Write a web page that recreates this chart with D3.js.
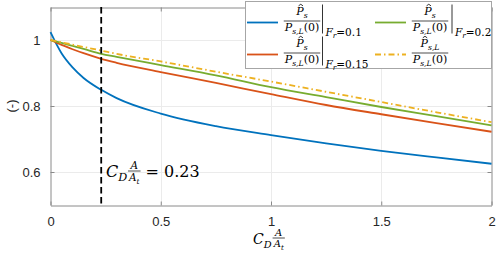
<!DOCTYPE html>
<html>
<head>
<meta charset="utf-8">
<script src="https://cdn.jsdelivr.net/npm/d3@7"></script>
<style>
  body { margin: 0; background: #fff; }
  svg { display: block; }
  .math { font-family: "DejaVu Serif", "Liberation Serif", serif; }
</style>
</head>
<body>
<div id="chart"></div>
<script>
// data
const cda = [0, 0.05, 0.1, 0.15, 0.23, 0.3, 0.5, 0.75, 1, 1.25, 1.5, 1.75, 2];
const fr010 = [1.024, 0.960, 0.917, 0.885, 0.849, 0.824, 0.777, 0.739, 0.712, 0.687, 0.664, 0.644, 0.625];
const fr015 = [1, 0.985, 0.972, 0.960, 0.943, 0.931, 0.903, 0.870, 0.836, 0.803, 0.775, 0.748, 0.722];
const fr020 = [1, 0.991, 0.982, 0.973, 0.958, 0.949, 0.924, 0.893, 0.857, 0.827, 0.797, 0.769, 0.741];
const limit = [1, 0.993, 0.986, 0.979, 0.968, 0.958, 0.935, 0.904, 0.874, 0.843, 0.812, 0.781, 0.751];
const xTicks = [0, 0.5, 1, 1.5, 2];
const yTicks = [0.6, 0.8, 1];
const marker = 0.23;

const W = 500, H = 256;
const config = { left: 50.5, right: 491.5, top: 7, bottom: 205 };

const svg = d3.select("#chart").append("svg")
    .attr("width", W).attr("height", H);

const xScale = d3.scaleLinear().domain([0, 2]).range([config.left, config.right]);
const yScale = d3.scaleLinear().domain([0.5, 1.1]).range([config.bottom, config.top]);

const sansFont = "'Liberation Sans', Arial, sans-serif";

// grid
svg.append("g").selectAll("line").data(xTicks.slice(1, -1)).enter().append("line")
    .attr("x1", d => Math.round(xScale(d)) + 0.5).attr("x2", d => Math.round(xScale(d)) + 0.5)
    .attr("y1", config.top).attr("y2", config.bottom)
    .style("stroke", "#ebebeb").style("stroke-width", 1);
svg.append("g").selectAll("line").data(yTicks).enter().append("line")
    .attr("x1", config.left).attr("x2", config.right)
    .attr("y1", d => Math.round(yScale(d)) + 0.5).attr("y2", d => Math.round(yScale(d)) + 0.5)
    .style("stroke", "#ebebeb").style("stroke-width", 1);

// axes
const axColor = "#8a8a8a";
svg.append("g")
    .attr("transform", "translate(0," + (config.bottom + 0.5) + ")")
    .call(d3.axisBottom(xScale).tickValues(xTicks).tickSizeInner(-4).tickSizeOuter(0).tickPadding(11).tickFormat(d3.format("")));
svg.append("g")
    .attr("transform", "translate(" + config.left + ",0)")
    .call(d3.axisLeft(yScale).tickValues(yTicks).tickSizeInner(-4).tickSizeOuter(0).tickPadding(10).tickFormat(d3.format("")));
svg.append("g")
    .attr("transform", "translate(0," + (config.top + 0.5) + ")")
    .call(d3.axisTop(xScale).tickValues(xTicks).tickSizeInner(-4).tickSizeOuter(0).tickFormat(""));
svg.append("g")
    .attr("transform", "translate(" + config.right + ",0)")
    .call(d3.axisRight(yScale).tickValues(yTicks).tickSizeInner(-4).tickSizeOuter(0).tickFormat(""));
svg.selectAll(".domain, .tick line").style("stroke", axColor);
svg.selectAll(".tick text")
    .style("font-family", sansFont).style("font-size", "13px").style("fill", "#262626");

// curves
const line = d3.line().x((d, i) => xScale(cda[i])).y(d => yScale(d)).curve(d3.curveMonotoneX);
const series = [
    { values: fr010, color: "#0072BD", dash: null },
    { values: fr015, color: "#D95319", dash: null },
    { values: fr020, color: "#77AC30", dash: null },
    { values: limit, color: "#EDB120", dash: "6,3,1.5,3" }
];
svg.append("g").selectAll("path").data(series).enter().append("path")
    .attr("d", d => line(d.values))
    .style("fill", "none")
    .style("stroke", d => d.color)
    .style("stroke-width", 1.8)
    .style("stroke-dasharray", d => d.dash);

// marker line
svg.append("line")
    .attr("x1", xScale(marker)).attr("x2", xScale(marker))
    .attr("y1", config.top).attr("y2", config.bottom)
    .style("stroke", "#000").style("stroke-width", 1.8)
    .style("stroke-dasharray", "6.5,3.5");

// helpers for math text
function mathText(g, x, y, parts, size, anchor) {
    const t = g.append("text").attr("class", "math").attr("x", x).attr("y", y)
        .attr("text-anchor", anchor || "start")
        .style("font-size", size + "px").style("fill", "#000");
    let shift = 0;
    parts.forEach(p => {
        const s = t.append("tspan").text(p.t)
            .style("font-style", p.i ? "italic" : "normal");
        const want = p.sub ? size * 0.28 : 0;
        if (want !== shift) { s.attr("dy", want - shift); shift = want; }
        if (p.sub) s.style("font-size", (size * 0.7) + "px");
    });
    return t;
}

// circumflex over the first letter, placed from the baseline
function hat(g, textSel, baseY, size) {
    const box = textSel.node().getExtentOfChar(0);
    const cx = box.x + box.width * 0.6;
    const top = baseY - size * 1.0;
    g.append("path")
        .attr("d", "M" + (cx - size * 0.2) + "," + (top + size * 0.14) + "L" + cx + "," + top + "L" + (cx + size * 0.2) + "," + (top + size * 0.14))
        .style("fill", "none").style("stroke", "#000").style("stroke-width", 0.8);
}

function frac(g, cx, barY, num, den, size, withHat, numSub) {
    const nY = barY - (numSub ? size * 0.52 : size * 0.2);
    const n = mathText(g, cx, nY, num, size, "middle");
    const d = mathText(g, cx, barY + size * 0.92, den, size, "middle");
    const w = Math.max(n.node().getBBox().width, d.node().getBBox().width) + 1;
    g.append("line").attr("x1", cx - w / 2).attr("x2", cx + w / 2)
        .attr("y1", barY).attr("y2", barY)
        .style("stroke", "#000").style("stroke-width", 0.7);
    if (withHat) hat(g, n, nY, size);
    return w;
}

// legend
const legend = svg.append("g");
legend.append("rect")
    .attr("x", 245.5).attr("y", 1.5).attr("width", 246).attr("height", 67)
    .style("fill", "#fff").style("stroke", "#a6a6a6").style("stroke-width", 1);

const numPs = [{ t: "P", i: true }, { t: "s", i: true, sub: true }];
const denPsL = [{ t: "P", i: true }, { t: "s,L", i: true, sub: true }, { t: "(0)" }];
const numPsL = [{ t: "P", i: true }, { t: "s,L", i: true, sub: true }];

const entries = [
    { x: 247, y: 22.5, color: "#0072BD", dash: null, num: numPs, fr: "0.1", bar: 322.5 },
    { x: 375, y: 22.5, color: "#77AC30", dash: null, num: numPs, fr: "0.2", bar: 452 },
    { x: 247, y: 54.5, color: "#D95319", dash: null, num: numPs, fr: "0.15", bar: 322.5 },
    { x: 375, y: 54.5, color: "#EDB120", dash: "6,3,1.5,3", num: numPsL, fr: null }
];
entries.forEach(e => {
    legend.append("line")
        .attr("x1", e.x).attr("x2", e.x + 31).attr("y1", e.y).attr("y2", e.y)
        .style("stroke", e.color).style("stroke-width", 1.8)
        .style("stroke-dasharray", e.dash);
    frac(legend, e.x + 55, e.y - 1.5, e.num, denPsL, 11, true, true);
    if (e.fr) {
        legend.append("line")
            .attr("x1", e.bar).attr("x2", e.bar)
            .attr("y1", e.y - 18).attr("y2", e.y + 11)
            .style("stroke", "#000").style("stroke-width", 0.8);
        mathText(legend, e.bar + 3, e.y + 13,
            [{ t: "F", i: true }, { t: "r", i: true, sub: true }, { t: "=" + e.fr }], 10.5);
    }
});

// annotation C_D A/A_t = 0.23
const ann = svg.append("g");
const c1 = mathText(ann, 106, 177, [{ t: "C", i: true }, { t: "D", i: true, sub: true }], 16);
const c1w = c1.node().getBBox().width;
const fw = frac(ann, 106 + c1w + 7, 171, [{ t: "A", i: true }], [{ t: "A", i: true }, { t: "t", i: true, sub: true }], 10.5, false, false);
mathText(ann, 106 + c1w + 7 + fw / 2 + 5, 177, [{ t: "= 0.23" }], 16);

// axis labels
const xl = svg.append("g");
const c2 = mathText(xl, 253, 244, [{ t: "C", i: true }, { t: "D", i: true, sub: true }], 14);
const c2w = c2.node().getBBox().width;
frac(xl, 253 + c2w + 7, 238, [{ t: "A", i: true }], [{ t: "A", i: true }, { t: "t", i: true, sub: true }], 10, false, false);

svg.append("text")
    .attr("transform", "translate(16," + yScale(0.8) + ") rotate(-90)")
    .attr("text-anchor", "middle")
    .style("font-family", sansFont).style("font-size", "13px").style("fill", "#262626")
    .text("(-)");
</script>
</body>
</html>
